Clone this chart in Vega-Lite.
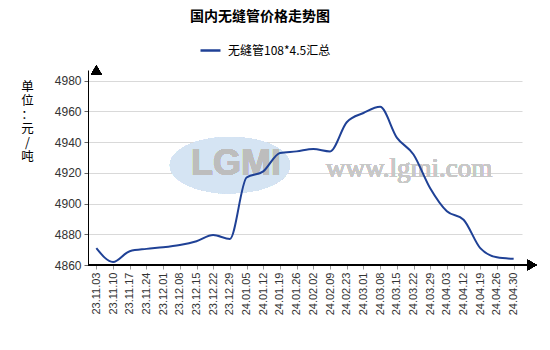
{
  "$schema": "https://vega.github.io/schema/vega-lite/v6.json",
  "width": 444,
  "height": 195,
  "autosize": "none",
  "padding": {"left": 88, "top": 70, "right": 18, "bottom": 85},
  "background": "white",
  "title": {
    "text": "国内无缝管价格走势图",
    "font": "Noto Sans CJK SC",
    "fontSize": 14,
    "fontWeight": "bold",
    "color": "#000000",
    "anchor": "middle",
    "dx": -50,
    "offset": 15
  },
  "config": {
    "view": {"stroke": null},
    "legend": {
      "orient": "none",
      "legendX": 111,
      "legendY": -31,
      "direction": "horizontal",
      "symbolType": "stroke",
      "symbolSize": 400,
      "symbolStrokeWidth": 2.5,
      "labelFont": "Noto Sans CJK SC",
      "labelFontSize": 12,
      "labelColor": "#000000",
      "labelOffset": 6
    }
  },
  "data": {
    "values": [
      {"d": "23.11.03", "v": 4871},
      {"d": "23.11.10", "v": 4862},
      {"d": "23.11.17", "v": 4869},
      {"d": "23.11.24", "v": 4870.5},
      {"d": "23.12.01", "v": 4871.5},
      {"d": "23.12.08", "v": 4873},
      {"d": "23.12.15", "v": 4875.5},
      {"d": "23.12.22", "v": 4879.5},
      {"d": "23.12.29", "v": 4877},
      {"d": "24.01.05", "v": 4917},
      {"d": "24.01.12", "v": 4921},
      {"d": "24.01.19", "v": 4933},
      {"d": "24.01.26", "v": 4934},
      {"d": "24.02.02", "v": 4935.5},
      {"d": "24.02.09", "v": 4934},
      {"d": "24.02.23", "v": 4953},
      {"d": "24.03.01", "v": 4959},
      {"d": "24.03.08", "v": 4963},
      {"d": "24.03.15", "v": 4943},
      {"d": "24.03.22", "v": 4932},
      {"d": "24.03.29", "v": 4910},
      {"d": "24.04.03", "v": 4895},
      {"d": "24.04.12", "v": 4889.5},
      {"d": "24.04.19", "v": 4871},
      {"d": "24.04.26", "v": 4865},
      {"d": "24.04.30", "v": 4864}
    ]
  },
  "encoding": {
    "x": {
      "field": "d",
      "type": "ordinal",
      "sort": null,
      "scale": {
        "type": "point",
        "range": [0, 434],
        "domain": ["23.11.03", "23.11.10", "23.11.17", "23.11.24", "23.12.01", "23.12.08", "23.12.15", "23.12.22", "23.12.29", "24.01.05", "24.01.12", "24.01.19", "24.01.26", "24.02.02", "24.02.09", "24.02.23", "24.03.01", "24.03.08", "24.03.15", "24.03.22", "24.03.29", "24.04.03", "24.04.12", "24.04.19", "24.04.26", "24.04.30"]
      },
      "axis": {
        "title": null,
        "domain": false,
        "grid": false,
        "labelAngle": 270,
        "labelFont": "Liberation Sans",
        "labelFontSize": 11,
        "labelColor": "#333333",
        "labelPadding": 3,
        "labelOverlap": false,
        "ticks": true,
        "tickSize": 4,
        "tickColor": "#999999"
      }
    },
    "y": {
      "field": "v",
      "type": "quantitative",
      "scale": {"domain": [4860, 4987], "nice": false, "zero": false},
      "axis": {
        "values": [4860, 4880, 4900, 4920, 4940, 4960, 4980],
        "format": "d",
        "labelOverlap": false,
        "grid": true,
        "gridColor": "#d9d9d9",
        "domain": true,
        "domainColor": "#000000",
        "ticks": true,
        "tickSize": 4,
        "tickColor": "#666666",
        "labelFont": "Liberation Sans",
        "labelFontSize": 12,
        "labelColor": "#333333",
        "labelPadding": 3,
        "title": ["单", "位", "：", "元", "/", "吨"],
        "titleAngle": 0,
        "titleX": -61,
        "titleY": 10,
        "titleAlign": "center",
        "titleBaseline": "top",
        "titleFont": "Noto Sans CJK SC",
        "titleFontSize": 12.5,
        "titleFontWeight": "normal",
        "titleColor": "#000000",
        "titleLineHeight": 14
      }
    }
  },
  "layer": [
    {
      "mark": {"type": "point", "shape": "M-1,0A1,0.47,0,1,0,1,0A1,0.47,0,1,0,-1,0Z", "filled": true, "size": 14400, "color": "#d5e3f3", "opacity": 0.8, "dx": 7},
      "encoding": {
        "x": {"datum": "23.12.29", "type": "ordinal"},
        "y": {"datum": 4925, "type": "quantitative"}
      }
    },
    {
      "mark": {"type": "text", "text": "LGMI", "font": "Liberation Sans", "fontWeight": "bold", "fontSize": 36, "color": "#bdbdbd", "opacity": 0.8, "align": "center", "baseline": "middle", "dx": 6},
      "encoding": {
        "x": {"datum": "23.12.29", "type": "ordinal"},
        "y": {"datum": 4926, "type": "quantitative"}
      }
    },
    {
      "mark": {"type": "text", "text": "www.lgmi.com", "font": "Liberation Serif", "fontSize": 27, "color": "#c8c8c8", "align": "left", "baseline": "alphabetic", "dx": -4},
      "encoding": {
        "x": {"datum": "24.02.09", "type": "ordinal"},
        "y": {"datum": 4917, "type": "quantitative"}
      }
    },
    {
      "mark": {"type": "line", "interpolate": "monotone", "strokeWidth": 2},
      "encoding": {
        "color": {
          "datum": "无缝管108*4.5汇总",
          "scale": {"range": ["#1f4196"]},
          "legend": {"title": null}
        }
      }
    },
    {
      "mark": {"type": "rule", "color": "#000000", "strokeWidth": 1},
      "encoding": {
        "x": null,
        "y": {"datum": 4860, "type": "quantitative"}
      }
    },
    {
      "mark": {"type": "point", "shape": "triangle-right", "filled": true, "size": 110, "color": "#000000", "opacity": 1},
      "encoding": {
        "x": {"value": "width"},
        "y": {"datum": 4860, "type": "quantitative"}
      }
    },
    {
      "mark": {"type": "point", "shape": "triangle-up", "filled": true, "size": 110, "color": "#000000", "opacity": 1},
      "encoding": {
        "x": {"datum": "23.11.03", "type": "ordinal"},
        "y": {"datum": 4987, "type": "quantitative"}
      }
    }
  ]
}
